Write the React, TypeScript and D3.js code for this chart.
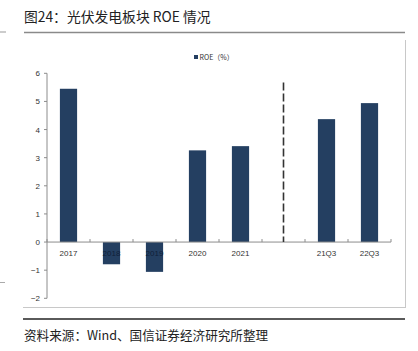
import React from "react";
import * as d3 from "d3";

const categories = ["2017", "2018", "2019", "2020", "2021", "", "21Q3", "22Q3"];
const roeValues: (number | null)[] = [5.45, -0.79, -1.06, 3.26, 3.41, null, 4.37, 4.94];
const yTicks = [-2, -1, 0, 1, 2, 3, 4, 5, 6];
const titleText = "图24：光伏发电板块 ROE 情况";
const legendLabel = "ROE（%）";
const sourceText = "资料来源：Wind、国信证券经济研究所整理";

const W = 418;
const H = 351;
const BAR = "#243f61";
const AXIS = "#8c8c8c";
const CJK = "'Noto Sans CJK SC', 'Noto Sans', sans-serif";
const LAT = "'Liberation Sans', Arial, sans-serif";

export default function App() {
  const keys = categories.map((c, i) => c || `gap${i}`);
  const x = d3.scaleBand<string>().domain(keys).range([47, 391]).padding(0);
  const y = d3.scaleLinear().domain([-2, 6]).range([298.3, 73.3]);
  const bw = x.bandwidth();
  const barW = bw * 0.4;
  const y0 = y(0);
  const boundaries = keys.map((k) => (x(k) as number) + bw).concat([x(keys[0]) as number]);
  const gapKey = keys[categories.indexOf("")];
  const gapX = (x(gapKey) as number) + bw / 2;

  return (
    <svg
      width={W}
      height={H}
      style={{ position: "absolute", left: 0, top: 0, background: "#fff" }}
    >
      {/* page decorations */}
      <line x1={0} x2={6} y1={32} y2={32} stroke="#999" strokeWidth={1} />
      <line x1={0} x2={5} y1={282.5} y2={282.5} stroke="#aaa" strokeWidth={1} />
      <text x={24} y={22} fontFamily={CJK} fontSize={13.8} fill="#222">
        {titleText}
      </text>
      <line x1={24} x2={405} y1={32.5} y2={32.5} stroke="#8a8a8a" strokeWidth={1.5} />
      {/* chart frame */}
      <line x1={405.5} x2={405.5} y1={40} y2={307.5} stroke="#c8c8c8" strokeWidth={1} />
      <line x1={23} x2={406} y1={307.5} y2={307.5} stroke="#c8c8c8" strokeWidth={1} />
      <line x1={23} x2={405} y1={319} y2={319} stroke="#5a5a5a" strokeWidth={2} />
      <text x={24} y={339.5} fontFamily={CJK} fontSize={12.6} fill="#222">
        {sourceText}
      </text>

      {/* legend */}
      <rect x={194} y={55} width={4} height={4} fill={BAR} />
      <text x={199.5} y={60} fontFamily={CJK} fontSize={7} fill="#333">
        {legendLabel}
      </text>

      {/* bars */}
      {keys.map((k, i) => {
        const v = roeValues[i];
        if (v == null) return null;
        const cx = (x(k) as number) + bw / 2;
        return (
          <rect
            key={k}
            x={cx - barW / 2}
            y={Math.min(y(v), y0)}
            width={barW}
            height={Math.abs(y(v) - y0)}
            fill={BAR}
          />
        );
      })}

      {/* y axis */}
      <line x1={47} x2={47} y1={y(6)} y2={y(-2)} stroke={AXIS} strokeWidth={1} />
      {yTicks.map((t) => (
        <g key={t}>
          <line x1={44} x2={47} y1={y(t)} y2={y(t)} stroke={AXIS} strokeWidth={1} />
          <text
            x={40}
            y={y(t) + 3}
            textAnchor="end"
            fontFamily={LAT}
            fontSize={8}
            fill="#333"
          >
            {t < 0 ? `\u2212${Math.abs(t)}` : t}
          </text>
        </g>
      ))}

      {/* x axis */}
      <line x1={47} x2={391} y1={y0} y2={y0} stroke={AXIS} strokeWidth={1} />
      {boundaries.map((b, i) => (
        <line key={i} x1={b} x2={b} y1={y0 - 3} y2={y0} stroke={AXIS} strokeWidth={1} />
      ))}
      {keys.map((k, i) =>
        categories[i] ? (
          <text
            key={k}
            x={(x(k) as number) + bw / 2}
            y={y0 + 14}
            textAnchor="middle"
            fontFamily={LAT}
            fontSize={8}
            fill={roeValues[i] != null && (roeValues[i] as number) < 0 ? "#10203a" : "#333"}
          >
            {categories[i]}
          </text>
        ) : null
      )}

      {/* dashed separator */}
      <line
        x1={gapX}
        x2={gapX}
        y1={82.5}
        y2={y0}
        stroke="#333"
        strokeWidth={1.6}
        strokeDasharray="8,3"
      />
    </svg>
  );
}
